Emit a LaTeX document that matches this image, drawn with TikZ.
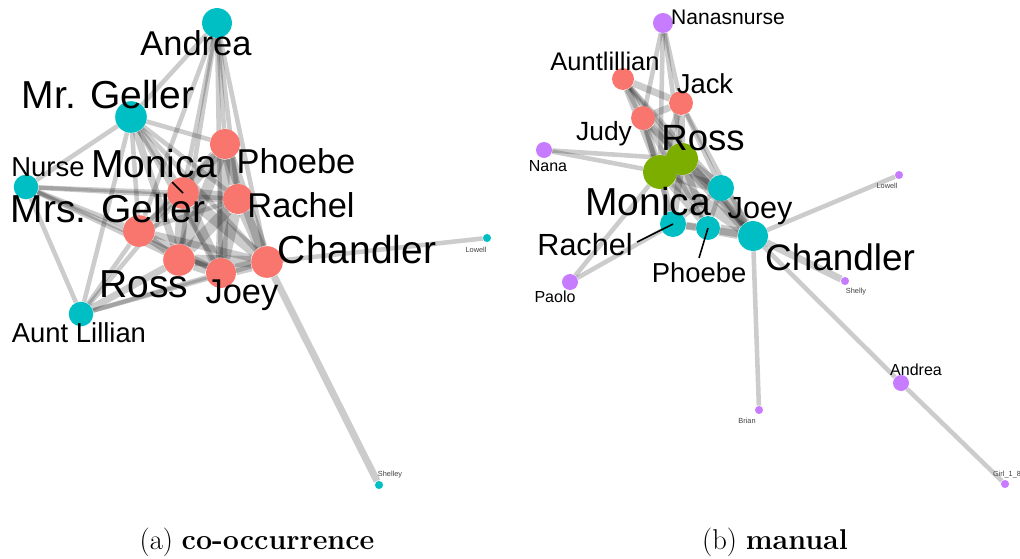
\documentclass[tikz,border=0pt]{standalone}
\usepackage{fontspec}
\newfontfamily\netfont{Liberation Sans}
\usetikzlibrary{backgrounds}

\definecolor{tealnode}{HTML}{00BFC4}
\definecolor{salmonnode}{HTML}{F8766D}
\definecolor{olivenode}{HTML}{7CAE00}
\definecolor{violetnode}{HTML}{C77CFF}

\tikzset{
  vtx/.style={circle, inner sep=0pt, minimum size=#1},
  lbl/.style={font=\netfont\fontsize{#1}{#1}\selectfont, inner sep=0pt, anchor=base},
  tinylbl/.style={lbl=4.2pt, text=black!75},
  link/.style={draw=black, draw opacity=0.2, line width=2.6pt},
  heavy/.style={link, line width=4pt},
  core/.style={link, line width=6.5pt},
  pointer/.style={draw=black, line width=0.9pt},
}

\begin{document}
\begin{tikzpicture}[x=0.02cm, y=-0.02cm]
\useasboundingbox (0,0) rectangle (1020,558);

% (a) co-occurrence graph
\node[vtx=17pt, fill=tealnode]   (aAnd)  at (217,23)  {};
\node[vtx=18pt, fill=tealnode]   (aMrG)  at (131,117) {};
\node[vtx=14pt, fill=tealnode]   (aNur)  at (26,187)  {};
\node[vtx=18pt, fill=salmonnode] (aMon)  at (183,193) {};
\node[vtx=17pt, fill=salmonnode] (aPho)  at (225,144) {};
\node[vtx=17pt, fill=salmonnode] (aRac)  at (238,199) {};
\node[vtx=18pt, fill=salmonnode] (aMrsG) at (139,231) {};
\node[vtx=18pt, fill=salmonnode] (aRos)  at (179,260) {};
\node[vtx=17pt, fill=salmonnode] (aJoe)  at (221,273) {};
\node[vtx=18pt, fill=salmonnode] (aCha)  at (267,262) {};
\node[vtx=14pt, fill=tealnode]   (aAun)  at (81,314)  {};
\node[vtx=4.6pt, fill=tealnode]  (aLow)  at (487,238) {};
\node[vtx=4.6pt, fill=tealnode]  (aShe)  at (379,485) {};

\begin{scope}[on background layer]
% the six friends
\draw[core] (aMon) -- (aPho); \draw[core] (aMon) -- (aRac); \draw[core] (aMon) -- (aRos);
\draw[core] (aMon) -- (aJoe); \draw[core] (aMon) -- (aCha);
\draw[core] (aPho) -- (aRac); \draw[core] (aPho) -- (aRos); \draw[core] (aPho) -- (aJoe);
\draw[core] (aPho) -- (aCha);
\draw[core] (aRac) -- (aRos); \draw[core] (aRac) -- (aJoe); \draw[core] (aRac) -- (aCha);
\draw[core] (aRos) -- (aJoe); \draw[core] (aRos) -- (aCha); \draw[core] (aJoe) -- (aCha);
% the Gellers
\draw[link] (aMrG) -- (aMrsG); \draw[heavy] (aMrG) -- (aMon); \draw[link] (aMrG) -- (aPho);
\draw[link] (aMrG) -- (aRac);  \draw[heavy] (aMrG) -- (aRos); \draw[link] (aMrG) -- (aJoe);
\draw[link] (aMrG) -- (aCha);
\draw[heavy] (aMrsG) -- (aMon); \draw[link] (aMrsG) -- (aPho); \draw[link] (aMrsG) -- (aRac);
\draw[heavy] (aMrsG) -- (aRos); \draw[heavy] (aMrsG) -- (aJoe); \draw[heavy] (aMrsG) -- (aCha);
% Andrea
\draw[link] (aAnd) -- (aMrG); \draw[link] (aAnd) -- (aMon); \draw[link] (aAnd) -- (aPho);
\draw[link] (aAnd) -- (aRac); \draw[link] (aAnd) -- (aRos); \draw[link] (aAnd) -- (aJoe);
\draw[link] (aAnd) -- (aCha); \draw[link] (aAnd) -- (aMrsG);
% Nurse
\draw[link] (aNur) -- (aMrG); \draw[link] (aNur) -- (aMon); \draw[link] (aNur) -- (aRac);
\draw[link] (aNur) -- (aMrsG); \draw[link] (aNur) -- (aRos); \draw[link] (aNur) -- (aJoe);
\draw[link] (aNur) -- (aAun);
% Aunt Lillian
\draw[link] (aAun) -- (aMrG); \draw[link] (aAun) -- (aMrsG); \draw[heavy] (aAun) -- (aRos);
\draw[link] (aAun) -- (aMon); \draw[link] (aAun) -- (aJoe); \draw[link] (aAun) -- (aCha);
% outliers
\draw[link] (aCha) -- (aLow);
\draw[heavy] (aCha) -- (aShe);
\end{scope}

\node[lbl=19.6pt] (aAndL)  at (196,55)  {Andrea};
\node[lbl=22.2pt] (aMrGL)  at (108,108) {Mr. Geller};
\node[lbl=15.6pt] (aNurL)  at (48,176)  {Nurse};
\node[lbl=22.2pt] (aMonL)  at (154,177) {Monica};
\node[lbl=19.6pt] (aPhoL)  at (296,173) {Phoebe};
\node[lbl=22.2pt] (aMrsGL) at (108,222) {Mrs. Geller};
\node[lbl=19.6pt] (aRacL)  at (301,217) {Rachel};
\node[lbl=22.2pt] (aChaL)  at (357,263) {Chandler};
\node[lbl=22.2pt] (aRosL)  at (144,297) {Ross};
\node[lbl=19.6pt] (aJoeL)  at (242,303) {Joey};
\node[lbl=15.6pt] (aAunL)  at (79,342)  {Aunt Lillian};
\node[tinylbl]    (aLowL)  at (476,252) {Lowell};
\node[tinylbl]    (aSheL)  at (390,476) {Shelley};
\draw[pointer] (172,182) -- (aMon.center);

% (b) manual graph
\node[vtx=11.4pt, fill=violetnode] (bNnn) at (663,23)  {};
\node[vtx=12.5pt, fill=salmonnode] (bAun) at (623,79)  {};
\node[vtx=13.6pt, fill=salmonnode] (bJac) at (681,103) {};
\node[vtx=13.6pt, fill=salmonnode] (bJud) at (643,118) {};
\node[vtx=9.1pt, fill=violetnode]  (bNan) at (544,150) {};
\node[vtx=18.2pt, fill=olivenode]  (bRos) at (682,159) {};
\node[vtx=19.3pt, fill=olivenode]  (bMon) at (660,172) {};
\node[vtx=14.8pt, fill=tealnode]   (bJoe) at (721,188) {};
\node[vtx=14.8pt, fill=tealnode]   (bRac) at (673,224) {};
\node[vtx=13.6pt, fill=tealnode]   (bPho) at (708,228) {};
\node[vtx=17pt, fill=tealnode]     (bCha) at (753,236) {};
\node[vtx=9.1pt, fill=violetnode]  (bPao) at (570,282) {};
\node[vtx=4.6pt, fill=violetnode]  (bLow) at (899,175) {};
\node[vtx=4.6pt, fill=violetnode]  (bShe) at (845,281) {};
\node[vtx=4.6pt, fill=violetnode]  (bBri) at (759,410) {};
\node[vtx=9.1pt, fill=violetnode]  (bAnd) at (901,383) {};
\node[vtx=4.6pt, fill=violetnode]  (bGir) at (1005,484) {};

\begin{scope}[on background layer]
% family
\draw[link] (bNnn) -- (bJud); \draw[link] (bNnn) -- (bJac); \draw[link] (bNnn) -- (bMon);
\draw[link] (bNnn) -- (bRos);
\draw[heavy] (bAun) -- (bJac); \draw[heavy] (bAun) -- (bJud); \draw[heavy] (bAun) -- (bMon);
\draw[link] (bAun) -- (bRos); \draw[link] (bAun) -- (bCha); \draw[link] (bAun) -- (bJoe);
\draw[heavy] (bJac) -- (bJud); \draw[heavy] (bJac) -- (bMon); \draw[heavy] (bJac) -- (bRos);
\draw[link] (bJac) -- (bJoe); \draw[link] (bJac) -- (bCha);
\draw[heavy] (bJud) -- (bMon); \draw[heavy] (bJud) -- (bRos); \draw[link] (bJud) -- (bCha);
\draw[link] (bJud) -- (bRac); \draw[link] (bJud) -- (bPho);
\draw[link] (bNan) -- (bMon); \draw[link] (bNan) -- (bRos);
% friends
\draw[core] (bRos) -- (bMon); \draw[core] (bRos) -- (bJoe); \draw[heavy] (bRos) -- (bRac);
\draw[heavy] (bRos) -- (bPho); \draw[core] (bRos) -- (bCha);
\draw[core] (bMon) -- (bJoe); \draw[heavy] (bMon) -- (bRac); \draw[heavy] (bMon) -- (bPho);
\draw[core] (bMon) -- (bCha);
\draw[link] (bJoe) -- (bRac); \draw[link] (bJoe) -- (bPho); \draw[core] (bJoe) -- (bCha);
\draw[heavy] (bRac) -- (bPho); \draw[heavy] (bRac) -- (bCha); \draw[core] (bPho) -- (bCha);
\draw[link] (bPao) -- (bMon); \draw[link] (bPao) -- (bRac);
% Chandler's side
\draw[link] (bCha) -- (bLow); \draw[heavy] (bCha) -- (bShe); \draw[link] (bCha) -- (bBri);
\draw[link] (bCha) -- (bAnd); \draw[link] (bAnd) -- (bGir);
\end{scope}

\node[lbl=12pt]   (bNnnL) at (728,24)  {Nanasnurse};
\node[lbl=14.5pt] (bAunL) at (605,70)  {Auntlillian};
\node[lbl=15.6pt] (bJacL) at (705,93)  {Jack};
\node[lbl=15pt]   (bJudL) at (604,140) {Judy};
\node[lbl=20.8pt] (bRosL) at (703,150) {Ross};
\node[lbl=9.1pt]  (bNanL) at (548,171) {Nana};
\node[lbl=22.2pt] (bMonL) at (648,215) {Monica};
\node[lbl=17.4pt] (bJoeL) at (760,218) {Joey};
\node[lbl=17.4pt] (bRacL) at (585,255) {Rachel};
\node[lbl=15.6pt] (bPhoL) at (699,282) {Phoebe};
\node[lbl=21pt]   (bChaL) at (840,270) {Chandler};
\node[lbl=9.1pt]  (bPaoL) at (555,302) {Paolo};
\node[tinylbl]    (bLowL) at (887,188) {Lowell};
\node[tinylbl]    (bSheL) at (856,293) {Shelly};
\node[tinylbl]    (bBriL) at (747,423) {Brian};
\node[lbl=9.1pt]  (bAndL) at (916,375) {Andrea};
\node[tinylbl]    (bGirL) at (1007,476) {Girl\_1\_8};
\draw[pointer] (637,242) -- (bRac.center);
\draw[pointer] (699,258) -- (bPho.center);

% captions
\node[anchor=base, inner sep=0pt, font=\fontsize{16.3pt}{18pt}\selectfont] (capA) at (257,549) {(a) \textbf{co-occurrence}};
\node[anchor=base, inner sep=0pt, font=\fontsize{16.3pt}{18pt}\selectfont] (capB) at (775,549) {(b) \textbf{manual}};
\end{tikzpicture}
\end{document}
